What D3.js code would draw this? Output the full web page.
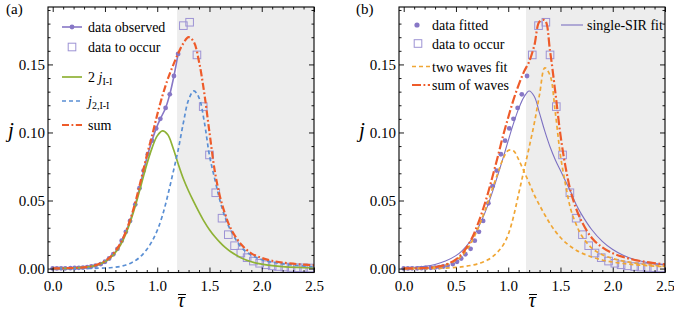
<!DOCTYPE html>
<html>
<head>
<meta charset="utf-8">
<script src="https://cdn.jsdelivr.net/npm/d3@7"></script>
<style>
body { margin: 0; background: #fff; }
</style>
</head>
<body>
<svg id="chart" width="674" height="311" font-family="'Liberation Serif', serif"></svg>
<script>
//  Data ---
var xMajor = [0, 0.5, 1, 1.5, 2, 2.5];
var xMinor = [0.1, 0.2, 0.3, 0.4, 0.6, 0.7, 0.8, 0.9, 1.1, 1.2, 1.3, 1.4, 1.6, 1.7, 1.8, 1.9, 2.1, 2.2, 2.3, 2.4];
var yMajor = [0, 0.05, 0.10, 0.15];
var yMinor = [0.01, 0.02, 0.03, 0.04, 0.06, 0.07, 0.08, 0.09, 0.11, 0.12, 0.13, 0.14, 0.16, 0.17, 0.18, 0.19];

// observed data (panel a), 30 points
var obsT = [0.00, 0.04, 0.08, 0.12, 0.17, 0.21, 0.25, 0.29, 0.33, 0.37, 0.41, 0.46, 0.50, 0.54, 0.58, 0.62, 0.66, 0.70, 0.74, 0.79, 0.83, 0.87, 0.91, 0.95, 0.99, 1.03, 1.08, 1.12, 1.16, 1.20];
var obsJ = [0.0001, 0.0001, 0.0002, 0.0002, 0.0003, 0.0004, 0.0005, 0.0007, 0.0010, 0.0015, 0.0022, 0.0033, 0.0050, 0.0074, 0.0105, 0.0145, 0.0205, 0.0270, 0.0350, 0.0470, 0.0590, 0.0720, 0.0840, 0.0940, 0.1030, 0.1100, 0.1180, 0.1280, 0.1415, 0.1577];
// data to occur (panel a)
var occT = [1.25, 1.31, 1.38, 1.44, 1.50, 1.56, 1.62, 1.68, 1.74, 1.80, 1.86, 1.92, 1.98, 2.04, 2.10, 2.16, 2.22, 2.28, 2.34, 2.40, 2.46];
var occJ = [0.1785, 0.1810, 0.1570, 0.1190, 0.0835, 0.0557, 0.0370, 0.0249, 0.0168, 0.0114, 0.0080, 0.0055, 0.0039, 0.0028, 0.0020, 0.0015, 0.0011, 0.0008, 0.0006, 0.0005, 0.0004];

// data fitted (panel b), 29 points
var fitT = [0.00, 0.04, 0.08, 0.13, 0.17, 0.21, 0.26, 0.30, 0.34, 0.38, 0.42, 0.47, 0.51, 0.55, 0.59, 0.64, 0.68, 0.72, 0.76, 0.81, 0.85, 0.89, 0.93, 0.97, 1.01, 1.05, 1.09, 1.13, 1.18];
var fitJ = [0.0001, 0.0001, 0.0002, 0.0002, 0.0003, 0.0004, 0.0005, 0.0007, 0.0010, 0.0015, 0.0022, 0.0033, 0.0050, 0.0074, 0.0105, 0.0145, 0.0205, 0.0270, 0.0350, 0.0480, 0.0605, 0.0720, 0.0840, 0.0940, 0.1030, 0.1100, 0.1180, 0.1280, 0.1415];
// data to occur (panel b)
var occBT = [1.23, 1.29, 1.36, 1.40, 1.46, 1.52, 1.59, 1.65, 1.71, 1.77, 1.83, 1.89, 1.96, 2.02, 2.08, 2.14, 2.21, 2.27, 2.33, 2.39, 2.46];
var occBJ = [0.1570, 0.1785, 0.1810, 0.1570, 0.1190, 0.0835, 0.0557, 0.0370, 0.0249, 0.0168, 0.0114, 0.0080, 0.0055, 0.0039, 0.0028, 0.0020, 0.0015, 0.0011, 0.0008, 0.0006, 0.0005];

// curves, sampled on one grid
var curveT = [0, 0.1, 0.2, 0.3, 0.4, 0.5, 0.55, 0.6, 0.65, 0.7, 0.75, 0.8, 0.85, 0.9, 0.95, 1.0, 1.05, 1.1, 1.15, 1.2, 1.25, 1.3, 1.35, 1.4, 1.45, 1.5, 1.55, 1.6, 1.65, 1.7, 1.8, 1.9, 2.0, 2.1, 2.2, 2.35, 2.5];
var twoJII = [0.0000, 0.0001, 0.0003, 0.0008, 0.0020, 0.0050, 0.0078, 0.0118, 0.0175, 0.0255, 0.0360, 0.0485, 0.0625, 0.0765, 0.0885, 0.0975, 0.1012, 0.0985, 0.0890, 0.0770, 0.0660, 0.0570, 0.0490, 0.0415, 0.0345, 0.0285, 0.0235, 0.0192, 0.0155, 0.0125, 0.0080, 0.0050, 0.0032, 0.0021, 0.0014, 0.0008, 0.0004];
var j2II = [0.0000, 0.0000, 0.0000, 0.0001, 0.0002, 0.0004, 0.0006, 0.0010, 0.0016, 0.0026, 0.0041, 0.0063, 0.0095, 0.0140, 0.0200, 0.0280, 0.0390, 0.0535, 0.0700, 0.0870, 0.1070, 0.1240, 0.1305, 0.1255, 0.1080, 0.0830, 0.0660, 0.0500, 0.0375, 0.0285, 0.0160, 0.0098, 0.0066, 0.0047, 0.0034, 0.0022, 0.0014];
var sumA = [0.0001, 0.0002, 0.0004, 0.0009, 0.0022, 0.0055, 0.0085, 0.0128, 0.0188, 0.0272, 0.0380, 0.0515, 0.0670, 0.0830, 0.0975, 0.1130, 0.1270, 0.1390, 0.1490, 0.1580, 0.1655, 0.1700, 0.1665, 0.1520, 0.1290, 0.1000, 0.0720, 0.0530, 0.0400, 0.0300, 0.0180, 0.0112, 0.0078, 0.0057, 0.0044, 0.0032, 0.0024];
var wave1 = [0.0001, 0.0002, 0.0004, 0.0010, 0.0025, 0.0060, 0.0090, 0.0135, 0.0195, 0.0275, 0.0370, 0.0475, 0.0590, 0.0700, 0.0805, 0.0868, 0.0865, 0.0800, 0.0715, 0.0630, 0.0540, 0.0465, 0.0395, 0.0330, 0.0275, 0.0228, 0.0190, 0.0160, 0.0135, 0.0115, 0.0085, 0.0063, 0.0048, 0.0037, 0.0029, 0.0020, 0.0014];
var wave2 = [0.0000, 0.0000, 0.0000, 0.0001, 0.0003, 0.0008, 0.0012, 0.0017, 0.0024, 0.0033, 0.0045, 0.0062, 0.0087, 0.0122, 0.0170, 0.0250, 0.0380, 0.0550, 0.0720, 0.0890, 0.1070, 0.1280, 0.1475, 0.1420, 0.1150, 0.0830, 0.0610, 0.0430, 0.0325, 0.0245, 0.0150, 0.0102, 0.0074, 0.0055, 0.0041, 0.0027, 0.0016];
var sumB = [0.0001, 0.0002, 0.0004, 0.0011, 0.0028, 0.0068, 0.0102, 0.0152, 0.0219, 0.0308, 0.0415, 0.0537, 0.0677, 0.0822, 0.0975, 0.1110, 0.1240, 0.1350, 0.1445, 0.1520, 0.1640, 0.1815, 0.1825, 0.1600, 0.1300, 0.0980, 0.0740, 0.0560, 0.0440, 0.0350, 0.0225, 0.0155, 0.0112, 0.0085, 0.0065, 0.0045, 0.0030];
var singleSIR = [0.0005, 0.0009, 0.0016, 0.0030, 0.0055, 0.0095, 0.0125, 0.0165, 0.0215, 0.0280, 0.0360, 0.0455, 0.0565, 0.0685, 0.0810, 0.0940, 0.1065, 0.1175, 0.1260, 0.1305, 0.1265, 0.1140, 0.1010, 0.0895, 0.0800, 0.0720, 0.0640, 0.0560, 0.0470, 0.0400, 0.0285, 0.0200, 0.0140, 0.0098, 0.0068, 0.0042, 0.0027];

var cutA = 1.19, cutB = 1.17;

var serif = "'Liberation Serif', serif";
var purple = "#8777c6", squareCol = "#9d93d4", green = "#8fb236", blue = "#5a8fd4",
    red = "#ee5b2a", orange = "#f0a634", sirCol = "#7d71c2";

var svg = d3.select("#chart");
var top_ = 7, bottom = 272.5;

function zip(ts, js) {
    return ts.map(function (t, i) { return [t, js[i]]; });
}

function txt(sel) {
    return sel.append("text").attr("font-family", serif);
}

function makePanel(left, right, cut) {
    var g = svg.append("g");
    var x = d3.scaleLinear().domain([-0.045, 2.5]).range([left, right]);
    var y = d3.scaleLinear().domain([-0.0029, 0.1922]).range([bottom, top_]);

    g.append("rect")
        .attr("x", x(cut)).attr("y", top_)
        .attr("width", right - x(cut)).attr("height", bottom - top_)
        .attr("fill", "#ededed")
        ;

    var clipId = "clip" + left;
    g.append("clipPath").attr("id", clipId)
        .append("rect").attr("x", left).attr("y", top_)
        .attr("width", right - left).attr("height", bottom - top_);
    var plot = g.append("g").attr("clip-path", "url(#" + clipId + ")");

    //  Axes (inward ticks on all four sides) ---
    function axis(gen, tr, vals, size, labels, fmt) {
        var a = gen.tickValues(vals).tickSizeInner(-size).tickSizeOuter(0)
            .tickFormat(labels ? d3.format(fmt) : "");
        var ag = g.append("g").attr("transform", tr).call(a);
        ag.attr("font-family", serif).attr("font-size", 15);
        ag.selectAll("text").attr("font-family", serif);
        ag.select(".domain").remove();
        ag.selectAll(".tick line").attr("stroke", "#000").attr("stroke-width", 0.9);
        return ag;
    }
    axis(d3.axisBottom(x).tickPadding(8), "translate(0," + bottom + ")", xMajor, 5, true, ".1f");
    axis(d3.axisBottom(x), "translate(0," + bottom + ")", xMinor, 2.5, false);
    axis(d3.axisTop(x), "translate(0," + top_ + ")", xMajor, 5, false);
    axis(d3.axisTop(x), "translate(0," + top_ + ")", xMinor, 2.5, false);
    axis(d3.axisLeft(y).tickPadding(3), "translate(" + left + ",0)", yMajor, 5, true, ".2f");
    axis(d3.axisLeft(y), "translate(" + left + ",0)", yMinor, 2.5, false);
    axis(d3.axisRight(y), "translate(" + right + ",0)", yMajor, 5, false);
    axis(d3.axisRight(y), "translate(" + right + ",0)", yMinor, 2.5, false);

    g.append("rect")
        .attr("x", left).attr("y", top_)
        .attr("width", right - left).attr("height", bottom - top_)
        .attr("fill", "none").attr("stroke", "#000").attr("stroke-width", 1.1)
        ;

    //  Axis titles ---
    txt(g)
        .attr("x", left - 40).attr("y", y(0.1) + 5)
        .attr("font-style", "italic").attr("font-size", 21)
        .text("j");
    var cx = (left + right) / 2;
    txt(g)
        .attr("x", cx).attr("y", 307)
        .attr("text-anchor", "middle")
        .attr("font-style", "italic").attr("font-size", 20)
        .text("\u03c4");
    g.append("line")
        .attr("x1", cx - 3).attr("x2", cx + 5)
        .attr("y1", 294.5).attr("y2", 294.5)
        .attr("stroke", "#000").attr("stroke-width", 1);

    return { g: g, plot: plot, x: x, y: y };
}

function line(p, ts, js, col, w, dash) {
    var gen = d3.line()
        .x(function (d) { return p.x(d[0]); })
        .y(function (d) { return p.y(d[1]); })
        .curve(d3.curveCatmullRom.alpha(0.5));
    p.plot.append("path")
        .datum(zip(ts, js))
        .attr("d", gen)
        .attr("fill", "none")
        .attr("stroke", col)
        .attr("stroke-width", w)
        .attr("stroke-dasharray", dash || null);
}

function dots(p, ts, js) {
    p.plot.append("g").selectAll("circle")
        .data(zip(ts, js)).enter().append("circle")
        .attr("cx", function (d) { return p.x(d[0]); })
        .attr("cy", function (d) { return p.y(d[1]); })
        .attr("r", 2.4)
        .attr("fill", purple);
}

function squares(p, ts, js) {
    p.plot.append("g").selectAll("rect")
        .data(zip(ts, js)).enter().append("rect")
        .attr("x", function (d) { return p.x(d[0]) - 3.8; })
        .attr("y", function (d) { return p.y(d[1]) - 3.8; })
        .attr("width", 7.6).attr("height", 7.6)
        .attr("fill", "none")
        .attr("stroke", squareCol).attr("stroke-width", 1);
}

var dashDot = "7,2.5,1.8,2.5";

//  Panel (a) ---
var pa = makePanel(48, 314, cutA);
line(pa, obsT, obsJ, purple, 1.6);
dots(pa, obsT, obsJ);
squares(pa, occT, occJ);
line(pa, curveT, twoJII, green, 1.7);
line(pa, curveT, j2II, blue, 1.7, "4,3");
line(pa, curveT, sumA, red, 2.2, dashDot);

//  Panel (b) ---
var pb = makePanel(399, 665, cutB);
dots(pb, fitT, fitJ);
squares(pb, occBT, occBJ);
line(pb, curveT, singleSIR, sirCol, 1.1);
line(pb, curveT, wave1, orange, 1.7, "4,3");
line(pb, curveT, wave2, orange, 1.7, "4,3");
line(pb, curveT, sumB, red, 2.2, "9,2.5,1.8,2.5");

//  Panel labels ---
txt(svg).attr("x", 6).attr("y", 14).attr("font-size", 15).text("(a)");
txt(svg).attr("x", 356).attr("y", 14).attr("font-size", 15).text("(b)");

//  Legends ---
function legendText(g, xPos, yPos, parts) {
    var t = txt(g).attr("x", xPos).attr("y", yPos + 5).attr("font-size", 14);
    parts.forEach(function (p) {
        var s = t.append("tspan").text(p.s);
        if (p.i) s.attr("font-style", "italic");
        if (p.sub) s.attr("font-size", 10).attr("dy", 3);
    });
}
function legendLine(g, x1, x2, yPos, col, w, dash) {
    g.append("line").attr("x1", x1).attr("x2", x2).attr("y1", yPos).attr("y2", yPos)
        .attr("stroke", col).attr("stroke-width", w).attr("stroke-dasharray", dash || null);
}

var lg = svg.append("g");
legendLine(lg, 62, 82, 27, purple, 1.6);
lg.append("circle").attr("cx", 72).attr("cy", 27).attr("r", 2.4).attr("fill", purple);
legendText(lg, 88, 27, [{ s: "data observed" }]);
lg.append("rect").attr("x", 68.2).attr("y", 43.2).attr("width", 7.6).attr("height", 7.6)
    .attr("fill", "none").attr("stroke", squareCol);
legendText(lg, 88, 47, [{ s: "data to occur" }]);
legendLine(lg, 62, 82, 77, green, 1.7);
legendText(lg, 88, 77, [{ s: "2 " }, { s: "j", i: true }, { s: "I-I", sub: true }]);
legendLine(lg, 62, 82, 101, blue, 1.7, "4,3");
legendText(lg, 88, 101, [{ s: "j", i: true }, { s: "2,I-I", sub: true }]);
legendLine(lg, 62, 82, 125, red, 2.2, dashDot);
legendText(lg, 88, 125, [{ s: "sum" }]);

var lb = svg.append("g");
lb.append("circle").attr("cx", 417).attr("cy", 25).attr("r", 2.6).attr("fill", purple);
legendText(lb, 432, 25, [{ s: "data fitted" }]);
lb.append("rect").attr("x", 414.2).attr("y", 39.7).attr("width", 7.6).attr("height", 7.6)
    .attr("fill", "none").attr("stroke", squareCol);
legendText(lb, 432, 43.5, [{ s: "data to occur" }]);
legendLine(lb, 412, 430, 66.5, orange, 1.7, "4,3");
legendText(lb, 432, 66.5, [{ s: "two waves fit" }]);
legendLine(lb, 412, 430, 85, red, 2.2, "9,2.5,1.8,2.5");
legendText(lb, 432, 85, [{ s: "sum of waves" }]);
legendLine(lb, 561, 583, 25, sirCol, 1.1);
legendText(lb, 587, 25, [{ s: "single-SIR fit" }]);
</script>
</body>
</html>
